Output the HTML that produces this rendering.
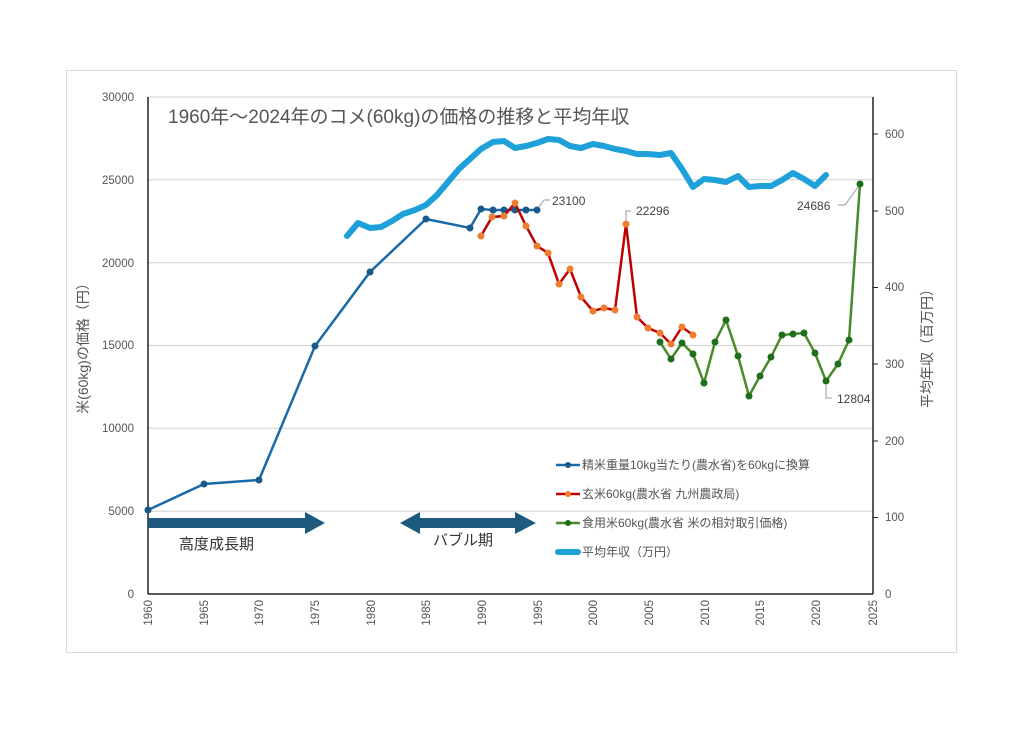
<!DOCTYPE html>
<html><head><meta charset="utf-8"><style>
body{margin:0;background:#fff;}
svg text{font-family:"Liberation Sans","Noto Sans CJK JP",sans-serif;}
</style></head><body>
<svg width="1024" height="724" viewBox="0 0 1024 724" xmlns="http://www.w3.org/2000/svg">
<rect x="0" y="0" width="1024" height="724" fill="#fff"/>
<rect x="66.5" y="70.5" width="890" height="582" fill="none" stroke="#d9d9d9" stroke-width="1"/>
<!-- gridlines -->
<g stroke="#d0d0d0" stroke-width="1">
<line x1="148" x2="873" y1="511.2" y2="511.2"/>
<line x1="148" x2="873" y1="428.3" y2="428.3"/>
<line x1="148" x2="873" y1="345.5" y2="345.5"/>
<line x1="148" x2="873" y1="262.7" y2="262.7"/>
<line x1="148" x2="873" y1="179.8" y2="179.8"/>
<line x1="148" x2="873" y1="97" y2="97"/>
</g>
<!-- axes -->
<g stroke="#222" stroke-width="1.5">
<line x1="148" x2="148" y1="97" y2="594"/>
<line x1="148" x2="873" y1="594" y2="594"/>
<line x1="873" x2="873" y1="97" y2="594"/>
</g>
<g stroke="#222" stroke-width="1">
<line x1="873" x2="878" y1="134" y2="134"/>
<line x1="873" x2="878" y1="211" y2="211"/>
<line x1="873" x2="878" y1="287.5" y2="287.5"/>
<line x1="873" x2="878" y1="364" y2="364"/>
<line x1="873" x2="878" y1="441" y2="441"/>
<line x1="873" x2="878" y1="517.5" y2="517.5"/>
</g>
<!-- left ticks labels -->
<g font-size="11.5" fill="#555" text-anchor="end">
<text x="134" y="598">0</text>
<text x="134" y="515">5000</text>
<text x="134" y="432">10000</text>
<text x="134" y="349">15000</text>
<text x="134" y="267">20000</text>
<text x="134" y="184">25000</text>
<text x="134" y="101">30000</text>
</g>
<g font-size="11.5" fill="#555" text-anchor="start">
<text x="885" y="598">0</text>
<text x="885" y="521">100</text>
<text x="885" y="445">200</text>
<text x="885" y="368">300</text>
<text x="885" y="291">400</text>
<text x="885" y="215">500</text>
<text x="885" y="138">600</text>
</g>
<g font-size="11.5" fill="#555" text-anchor="end">
<text transform="translate(152,600) rotate(-90)">1960</text>
<text transform="translate(208,600) rotate(-90)">1965</text>
<text transform="translate(263,600) rotate(-90)">1970</text>
<text transform="translate(319,600) rotate(-90)">1975</text>
<text transform="translate(375,600) rotate(-90)">1980</text>
<text transform="translate(430,600) rotate(-90)">1985</text>
<text transform="translate(486,600) rotate(-90)">1990</text>
<text transform="translate(542,600) rotate(-90)">1995</text>
<text transform="translate(597,600) rotate(-90)">2000</text>
<text transform="translate(653,600) rotate(-90)">2005</text>
<text transform="translate(709,600) rotate(-90)">2010</text>
<text transform="translate(764,600) rotate(-90)">2015</text>
<text transform="translate(820,600) rotate(-90)">2020</text>
<text transform="translate(877,600) rotate(-90)">2025</text>
</g>
<text transform="translate(88,345) rotate(-90)" font-size="14" fill="#555" text-anchor="middle">米(60kg)の価格（円）</text>
<text transform="translate(932,345) rotate(-90)" font-size="14" fill="#555" text-anchor="middle">平均年収（百万円）</text>
<text x="168" y="123" font-size="19" fill="#555">1960年～2024年のコメ(60kg)の価格の推移と平均年収</text>
<!-- income -->
<polyline fill="none" stroke="#1ea0d8" stroke-width="6" stroke-linejoin="round" stroke-linecap="round" points="347,236 358,223 370,228 381,227 392,221 403,214 415,210 426,205 437,195 448,182 459,169 470,159 481,149 493,142 504,141 515,148 526,146 537,143 548,139 559,140 570,146 581,148 593,144 604,146 615,149 626,151 637,154 648,154 660,155 671,153 682,169 693,187 704,179 715,180 726,182 738,176 749,187 760,186 771,186 782,180 793,173 804,179 815,186 826,175"/>
<!-- blue price -->
<polyline fill="none" stroke="#1a6aa8" stroke-width="2.5" points="148,510 204,484 259,480 315,346 370,272 426,219 470,228 481,209 493,210 504,210 515,210 526,210 537,210"/>
<g fill="#1a5a88"><circle cx="148" cy="510" r="3.5"/><circle cx="204" cy="484" r="3.5"/><circle cx="259" cy="480" r="3.5"/><circle cx="315" cy="346" r="3.5"/><circle cx="370" cy="272" r="3.5"/><circle cx="426" cy="219" r="3.5"/><circle cx="470" cy="228" r="3.5"/><circle cx="481" cy="209" r="3.5"/><circle cx="493" cy="210" r="3.5"/><circle cx="504" cy="210" r="3.5"/><circle cx="515" cy="210" r="3.5"/><circle cx="526" cy="210" r="3.5"/><circle cx="537" cy="210" r="3.5"/></g>
<!-- red -->
<polyline fill="none" stroke="#c00000" stroke-width="2.5" points="481,236 492,217 504,216 515,203 526,226 537,246 548,253 559,284 570,269 581,297 593,311 604,308 615,310 626,224 637,317 648,328 660,333 671,344 682,327 693,335"/>
<g fill="#ed7d31"><circle cx="481" cy="236" r="3.5"/><circle cx="492" cy="217" r="3.5"/><circle cx="504" cy="216" r="3.5"/><circle cx="515" cy="203" r="3.5"/><circle cx="526" cy="226" r="3.5"/><circle cx="537" cy="246" r="3.5"/><circle cx="548" cy="253" r="3.5"/><circle cx="559" cy="284" r="3.5"/><circle cx="570" cy="269" r="3.5"/><circle cx="581" cy="297" r="3.5"/><circle cx="593" cy="311" r="3.5"/><circle cx="604" cy="308" r="3.5"/><circle cx="615" cy="310" r="3.5"/><circle cx="626" cy="224" r="3.5"/><circle cx="637" cy="317" r="3.5"/><circle cx="648" cy="328" r="3.5"/><circle cx="660" cy="333" r="3.5"/><circle cx="671" cy="344" r="3.5"/><circle cx="682" cy="327" r="3.5"/><circle cx="693" cy="335" r="3.5"/></g>
<!-- green -->
<polyline fill="none" stroke="#4a8a2a" stroke-width="2.5" points="660,342 671,359 682,343 693,354 704,383 715,342 726,320 738,356 749,396 760,376 771,357 782,335 793,334 804,333 815,353 826,381 838,364 849,340 860,184"/>
<g fill="#1e6e1e"><circle cx="660" cy="342" r="3.5"/><circle cx="671" cy="359" r="3.5"/><circle cx="682" cy="343" r="3.5"/><circle cx="693" cy="354" r="3.5"/><circle cx="704" cy="383" r="3.5"/><circle cx="715" cy="342" r="3.5"/><circle cx="726" cy="320" r="3.5"/><circle cx="738" cy="356" r="3.5"/><circle cx="749" cy="396" r="3.5"/><circle cx="760" cy="376" r="3.5"/><circle cx="771" cy="357" r="3.5"/><circle cx="782" cy="335" r="3.5"/><circle cx="793" cy="334" r="3.5"/><circle cx="804" cy="333" r="3.5"/><circle cx="815" cy="353" r="3.5"/><circle cx="826" cy="381" r="3.5"/><circle cx="838" cy="364" r="3.5"/><circle cx="849" cy="340" r="3.5"/><circle cx="860" cy="184" r="3.5"/></g>
<!-- data labels -->
<g stroke="#999" fill="none" stroke-width="1">
<polyline points="539,207 544,200 550,200"/>
<polyline points="626,220 626,211 631,211"/>
<polyline points="826,385 826,398 832,398"/>
<polyline points="858,187 845,205 838,205"/>
</g>
<g font-size="12" fill="#444">
<text x="552" y="205">23100</text>
<text x="636" y="215">22296</text>
<text x="837" y="403">12804</text>
<text x="797" y="210">24686</text>
</g>
<!-- arrows -->
<g fill="#1e5a7e">
<polygon points="148,518 305,518 305,512 325,523 305,534 305,528 148,528"/>
<polygon points="400,523 420,512 420,518 515,518 515,512 536,523 515,534 515,528 420,528 420,534"/>
</g>
<g font-size="15" fill="#333">
<text x="179" y="549">高度成長期</text>
<text x="433" y="545">バブル期</text>
</g>
<!-- legend -->
<g stroke-width="2.5">
<line x1="556" x2="580" y1="465" y2="465" stroke="#1a6aa8"/><circle cx="568" cy="465" r="3" fill="#1a5a88"/>
<line x1="556" x2="580" y1="494" y2="494" stroke="#c00000"/><circle cx="568" cy="494" r="3" fill="#ed7d31"/>
<line x1="556" x2="580" y1="523" y2="523" stroke="#4a8a2a"/><circle cx="568" cy="523" r="3" fill="#1e6e1e"/>
<line x1="558" x2="578" y1="552" y2="552" stroke="#1ea0d8" stroke-width="6" stroke-linecap="round"/>
</g>
<g font-size="12" fill="#555">
<text x="582" y="469">精米重量10kg当たり(農水省)を60kgに換算</text>
<text x="582" y="498">玄米60kg(農水省 九州農政局)</text>
<text x="582" y="527">食用米60kg(農水省 米の相対取引価格)</text>
<text x="582" y="556">平均年収（万円）</text>
</g>
</svg>
</body></html>
